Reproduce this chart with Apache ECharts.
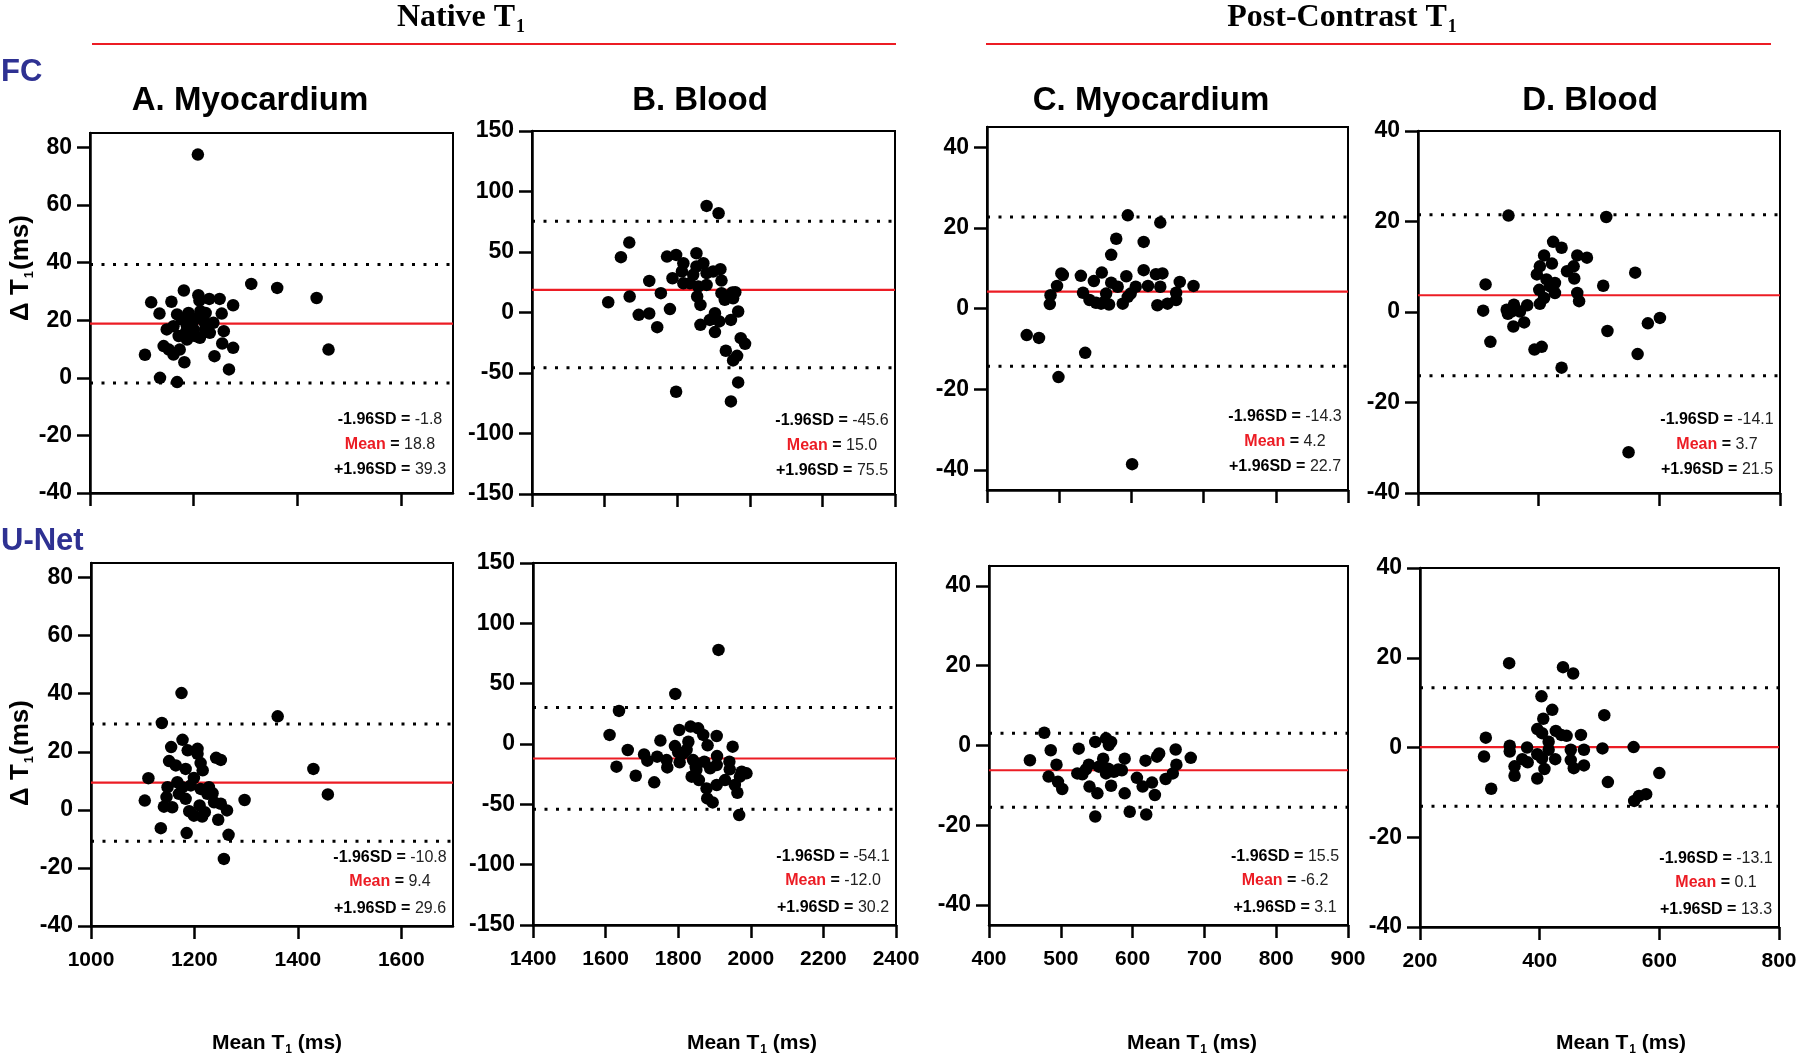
<!DOCTYPE html>
<html>
<head>
<meta charset="utf-8">
<script src="https://cdn.jsdelivr.net/npm/echarts@6/dist/echarts.min.js"></script>
<style>
html,body{margin:0;padding:0;background:#fff;}
#chart{width:1800px;height:1059px;}
</style>
</head>
<body>
<div id="chart"></div>
<script>
// ---------------- DATA ----------------
const panelTitles = ['A. Myocardium', 'B. Blood', 'C. Myocardium', 'D. Blood'];
const groupTitles = ['Native T', 'Post-Contrast T'];
const rowLabels = ['FC', 'U-Net'];

// tick values
const nativeMyoXTicks = [1000, 1200, 1400, 1600];
const nativeBloodXTicks = [1400, 1600, 1800, 2000, 2200, 2400];
const postMyoXTicks = [400, 500, 600, 700, 800, 900];
const postBloodXTicks = [200, 400, 600, 800];
const nativeMyoYTicks = [-40, -20, 0, 20, 40, 60, 80];
const nativeBloodYTicks = [-150, -100, -50, 0, 50, 100, 150];
const postMyoYTicks = [-40, -20, 0, 20, 40];
const postBloodYTicks = [-40, -20, 0, 20, 40];

// axis extents [min, max]
const nativeMyoX = [1000, 1700], nativeMyoY = [-40, 85];
const nativeBloodX = [1400, 2400], nativeBloodY = [-150, 150];
const postMyoX = [400, 900], postMyoY = [-45, 45];
const postBloodX = [200, 800], postBloodY = [-40, 40];

// points [mean T1, delta T1]
const fcNativeMyo = [[1208,77.5],[1311,32.6],[1361,31.2],[1437,27.7],[1460,9.8],[1118,26.2],[1134,22.3],[1157,26.4],[1181,30.3],[1209,28.7],[1211,26.8],[1230,27.4],[1250,27.4],[1276,25.2],[1254,22.3],[1223,22.5],[1213,23.1],[1190,22.5],[1168,22.0],[1148,16.8],[1177,20.2],[1197,19.1],[1219,19.7],[1238,19.1],[1258,16.2],[1231,15.6],[1212,13.9],[1187,13.3],[1171,14.5],[1161,17.9],[1142,11.0],[1152,9.8],[1161,8.1],[1173,9.8],[1255,11.9],[1276,10.4],[1240,7.5],[1182,5.4],[1106,8.0],[1268,2.9],[1135,0.0],[1168,-1.5],[1200,16.8],[1206,20.8],[1184,15.6],[1222,16.8],[1187,17.9],[1203,14.5]];
const fcNativeBlood = [[1881,88.1],[1914,82.0],[1668,57.8],[1645,45.7],[1610,8.5],[1669,13.2],[1694,-1.9],[1723,-0.8],[1723,26.1],[1745,-12.1],[1755,16.0],[1780,2.8],[1787,28.3],[1772,46.2],[1797,47.6],[1817,40.7],[1813,33.9],[1817,24.2],[1835,24.2],[1844,31.1],[1853,49.0],[1872,40.7],[1853,38.0],[1858,21.5],[1881,22.8],[1855,13.2],[1864,6.3],[1899,33.9],[1919,35.8],[1922,26.4],[1922,16.0],[1931,10.5],[1952,16.5],[1960,16.8],[1954,11.8],[1968,0.8],[1904,-0.6],[1890,-6.1],[1916,-7.4],[1948,-6.1],[1864,-10.2],[1904,-16.2],[1934,-31.6],[1965,-35.8],[1954,-39.6],[1975,-21.2],[1987,-25.9],[1968,-57.8],[1948,-73.5],[1797,-65.5],[1881,32.5]];
const fcPostMyo = [[455,-6.6],[472,-7.3],[499,-17.0],[536,-11.0],[601,-38.6],[487,1.1],[488,3.3],[497,5.6],[503,8.7],[505,8.3],[530,8.1],[533,3.9],[548,6.8],[559,8.9],[542,2.1],[551,1.4],[558,1.2],[565,3.7],[569,1.0],[572,13.3],[579,17.3],[572,6.4],[581,5.4],[593,8.0],[595,23.1],[588,1.2],[595,2.9],[606,5.4],[617,9.5],[617,16.5],[623,5.6],[634,8.5],[643,8.7],[640,21.3],[640,5.4],[636,0.8],[650,1.2],[662,2.1],[662,3.9],[667,6.6],[686,5.6],[563,1.7],[599,3.7]];
const fcPostBlood = [[350,21.3],[512,21.0],[312,6.1],[308,0.3],[320,-6.6],[347,0.5],[349,-0.4],[359,1.6],[358,-3.2],[369,0.1],[376,-2.3],[381,1.5],[393,-8.3],[405,-7.7],[397,8.3],[402,10.1],[409,12.5],[401,4.9],[402,1.8],[409,3.1],[413,7.2],[422,10.7],[424,15.5],[419,5.7],[427,6.4],[427,4.2],[438,14.2],[438,-12.3],[447,9.0],[458,10.1],[459,7.4],[464,12.5],[480,12.0],[464,4.2],[467,2.4],[507,5.8],[514,-4.2],[549,-31.0],[560,8.7],[564,-9.3],[581,-2.5],[601,-1.3],[355,0.1]];
const unetNativeMyo = [[1175,40.2],[1137,29.9],[1361,32.2],[1430,14.1],[1458,5.3],[1111,10.9],[1104,3.2],[1155,21.6],[1177,24.1],[1206,21.0],[1206,19.3],[1187,20.5],[1151,16.8],[1164,15.3],[1183,14.1],[1212,16.1],[1216,13.6],[1242,17.9],[1251,17.2],[1199,11.0],[1167,9.5],[1148,7.8],[1146,4.4],[1141,1.1],[1157,0.9],[1170,5.5],[1183,3.8],[1193,8.4],[1212,7.2],[1228,7.8],[1235,5.7],[1238,2.6],[1251,2.1],[1210,1.5],[1190,-0.5],[1199,-2.0],[1215,-2.3],[1220,-0.8],[1263,-0.2],[1246,-3.4],[1135,-6.3],[1185,-8.0],[1266,-8.6],[1257,-16.9],[1297,3.4],[1177,7.8],[1225,5.5]];
const unetNativeBlood = [[1911,78.0],[1792,41.5],[1637,27.4],[1611,7.5],[1630,-18.8],[1661,-5.0],[1683,-26.3],[1706,-8.6],[1715,-13.8],[1734,-31.8],[1742,-10.5],[1751,2.8],[1768,-13.3],[1770,-19.4],[1791,-1.7],[1803,11.6],[1800,-6.9],[1804,-15.2],[1814,-7.7],[1828,1.9],[1834,14.4],[1855,13.0],[1869,7.5],[1841,-13.3],[1848,-18.8],[1837,-27.1],[1857,-29.9],[1872,-14.7],[1881,-1.1],[1888,-20.2],[1906,6.6],[1907,-10.0],[1906,-17.4],[1878,-36.8],[1880,-45.1],[1895,-48.4],[1906,-34.0],[1929,-29.9],[1941,-14.7],[1942,-21.0],[1950,-2.2],[1956,-34.0],[1963,-40.4],[1968,-58.9],[1975,-22.9],[1988,-24.3],[1970,-27.1],[1823,-5.0],[1850,-21.6]];
const unetPostMyo = [[457,-3.7],[477,3.2],[486,-1.2],[494,-4.8],[483,-7.8],[496,-9.1],[502,-10.9],[525,-0.8],[523,-7.0],[530,-7.2],[539,-4.8],[535,-6.0],[540,-10.3],[551,-12.0],[548,0.9],[548,-17.8],[559,-3.3],[563,1.8],[567,0.1],[570,0.9],[566,-5.8],[563,-7.0],[574,-6.6],[570,-10.1],[585,-6.2],[589,-3.3],[589,-12.0],[596,-16.6],[606,-8.1],[614,-10.3],[618,-3.8],[619,-17.3],[627,-9.3],[631,-12.4],[634,-2.8],[637,-2.0],[646,-8.4],[656,-7.0],[661,-4.8],[660,-1.0],[681,-3.1],[553,-5.3],[580,-6.0]];
const unetPostBlood = [[349,18.8],[439,17.9],[456,16.5],[310,2.2],[307,-2.0],[319,-9.2],[350,0.4],[350,-0.9],[358,-4.2],[358,-6.3],[371,-2.6],[380,-3.3],[379,0.0],[396,-1.5],[396,-6.9],[403,11.4],[406,6.4],[396,4.1],[404,3.2],[408,-4.8],[404,-2.4],[415,1.3],[421,8.4],[427,3.7],[426,-2.6],[436,2.8],[445,2.6],[452,-0.5],[452,-2.8],[457,-4.6],[469,2.8],[474,-0.5],[474,-4.0],[505,-0.2],[508,7.2],[514,-7.7],[557,0.1],[558,-11.9],[566,-10.8],[578,-10.4],[600,-5.7],[415,-0.5]];

// limits of agreement as drawn [-1.96SD, mean, +1.96SD]
const fcNativeMyoLimits = [-1.8, 18.8, 39.3];
const fcNativeBloodLimits = [-45.6, 18.7, 75.5];
const fcPostMyoLimits = [-14.3, 4.2, 22.7];
const fcPostBloodLimits = [-14.1, 3.7, 21.5];
const unetNativeMyoLimits = [-10.8, 9.4, 29.6];
const unetNativeBloodLimits = [-54.1, -12.0, 30.2];
const unetPostMyoLimits = [-15.5, -6.2, 3.1];
const unetPostBloodLimits = [-13.1, 0.1, 13.3];

// printed statistics [-1.96SD, mean, +1.96SD]
const fcNativeMyoStats = ['-1.8', '18.8', '39.3'];
const fcNativeBloodStats = ['-45.6', '15.0', '75.5'];
const fcPostMyoStats = ['-14.3', '4.2', '22.7'];
const fcPostBloodStats = ['-14.1', '3.7', '21.5'];
const unetNativeMyoStats = ['-10.8', '9.4', '29.6'];
const unetNativeBloodStats = ['-54.1', '-12.0', '30.2'];
const unetPostMyoStats = ['15.5', '-6.2', '3.1'];
const unetPostBloodStats = ['-13.1', '0.1', '13.3'];

// ---------------- LAYOUT ----------------
const FONT = "'Liberation Sans', Arial, Helvetica, sans-serif";
const SERIF = "'Liberation Serif', 'Times New Roman', serif";
const RED = '#ec1c24';
const NAVY = '#2e3192';

const layout = [
  {left: 90, top: 133, width: 363, height: 360},
  {left: 532, top: 131, width: 363, height: 363},
  {left: 987, top: 127, width: 361, height: 363},
  {left: 1418, top: 131, width: 362, height: 362},
  {left: 91, top: 563, width: 362, height: 363},
  {left: 533, top: 563, width: 363, height: 362},
  {left: 989, top: 566, width: 359, height: 359},
  {left: 1420, top: 568, width: 359, height: 359}
];

const panels = [
  {pts: fcNativeMyo, lim: fcNativeMyoLimits, st: fcNativeMyoStats, x: nativeMyoX, y: nativeMyoY, xt: nativeMyoXTicks, yt: nativeMyoYTicks},
  {pts: fcNativeBlood, lim: fcNativeBloodLimits, st: fcNativeBloodStats, x: nativeBloodX, y: nativeBloodY, xt: nativeBloodXTicks, yt: nativeBloodYTicks},
  {pts: fcPostMyo, lim: fcPostMyoLimits, st: fcPostMyoStats, x: postMyoX, y: postMyoY, xt: postMyoXTicks, yt: postMyoYTicks},
  {pts: fcPostBlood, lim: fcPostBloodLimits, st: fcPostBloodStats, x: postBloodX, y: postBloodY, xt: postBloodXTicks, yt: postBloodYTicks},
  {pts: unetNativeMyo, lim: unetNativeMyoLimits, st: unetNativeMyoStats, x: nativeMyoX, y: nativeMyoY, xt: nativeMyoXTicks, yt: nativeMyoYTicks},
  {pts: unetNativeBlood, lim: unetNativeBloodLimits, st: unetNativeBloodStats, x: nativeBloodX, y: nativeBloodY, xt: nativeBloodXTicks, yt: nativeBloodYTicks},
  {pts: unetPostMyo, lim: unetPostMyoLimits, st: unetPostMyoStats, x: postMyoX, y: postMyoY, xt: postMyoXTicks, yt: postMyoYTicks},
  {pts: unetPostBlood, lim: unetPostBloodLimits, st: unetPostBloodStats, x: postBloodX, y: postBloodY, xt: postBloodXTicks, yt: postBloodYTicks}
];

const plain = v => String(v);
const grids = [], xAxes = [], yAxes = [], series = [], graphics = [];

panels.forEach((p, i) => {
  const L = layout[i];
  const row2 = i >= 4;
  grids.push({left: L.left, top: L.top, width: L.width, height: L.height, show: true,
    borderColor: '#000', borderWidth: 2, backgroundColor: 'transparent', outerBoundsMode: 'none', containLabel: false});
  xAxes.push({type: 'value', gridIndex: i, min: p.x[0], max: p.x[1],
    axisLine: {show: true, onZero: false, lineStyle: {color: '#000', width: 2.5}},
    axisTick: {show: true, inside: false, length: 13, customValues: p.xt, lineStyle: {color: '#000', width: 2.5}},
    axisLabel: {show: row2, customValues: p.xt, formatter: plain, color: '#000', fontWeight: 'bold', fontSize: 21, fontFamily: FONT, margin: 24},
    splitLine: {show: false}});
  yAxes.push({type: 'value', gridIndex: i, min: p.y[0], max: p.y[1],
    axisLine: {show: true, onZero: false, lineStyle: {color: '#000', width: 2.5}},
    axisTick: {show: true, inside: false, length: 13, customValues: p.yt, lineStyle: {color: '#000', width: 2.5}},
    axisLabel: {customValues: p.yt, formatter: plain, color: '#000', fontWeight: 'bold', fontSize: 23, fontFamily: FONT, margin: 18},
    splitLine: {show: false}});
  // limits of agreement lines
  [0, 2].forEach(k => {
    series.push({type: 'line', xAxisIndex: i, yAxisIndex: i, silent: true, symbol: 'none', z: 1,
      data: [[p.x[0], p.lim[k]], [p.x[1], p.lim[k]]],
      lineStyle: {color: '#000', width: 3, type: [3, 8.5]}});
  });
  series.push({type: 'line', xAxisIndex: i, yAxisIndex: i, silent: true, symbol: 'none', z: 1,
    data: [[p.x[0], p.lim[1]], [p.x[1], p.lim[1]]],
    lineStyle: {color: RED, width: 2.2}});
  series.push({type: 'scatter', xAxisIndex: i, yAxisIndex: i, data: p.pts, symbolSize: 12.5, z: 3,
    itemStyle: {color: '#000', opacity: 1}});

  // statistics text
  const cx = L.left + L.width - 63;
  const bottom = L.top + L.height;
  const ys = row2 ? [bottom - 68, bottom - 44, bottom - 17] : [bottom - 73, bottom - 48, bottom - 23];
  const rich = {
    b: {fontFamily: FONT, fontWeight: 'bold', fontSize: 16, fill: '#000'},
    n: {fontFamily: FONT, fontWeight: 'normal', fontSize: 16, fill: '#222'},
    r: {fontFamily: FONT, fontWeight: 'bold', fontSize: 16, fill: RED}
  };
  const lines = ['{b|-1.96SD =} {n|' + p.st[0] + '}', '{r|Mean} {b|=} {n|' + p.st[1] + '}', '{b|+1.96SD =} {n|' + p.st[2] + '}'];
  lines.forEach((t, k) => {
    graphics.push({type: 'text', x: cx, y: ys[k], style: {text: t, rich: rich, align: 'center', verticalAlign: 'middle', fontFamily: FONT, fontSize: 16}});
  });
});

// panel titles
const titleX = [250, 700, 1151, 1590];
panelTitles.forEach((t, i) => {
  graphics.push({type: 'text', x: titleX[i], y: 101, style: {text: t, fontFamily: FONT, fontWeight: 'bold', fontSize: 33, fill: '#000', align: 'center', verticalAlign: 'middle'}});
});

// group titles with red rules
const groupX = [461, 1342];
const ruleX = [[92, 896], [986, 1771]];
groupTitles.forEach((t, i) => {
  graphics.push({type: 'text', x: groupX[i], y: 18, style: {
    text: '{t|' + t + '}{s|1}', align: 'center', verticalAlign: 'middle',
    rich: {t: {fontFamily: SERIF, fontWeight: 'bold', fontSize: 32, lineHeight: 36, fill: '#000'},
           s: {fontFamily: SERIF, fontWeight: 'bold', fontSize: 18, lineHeight: 36, verticalAlign: 'bottom', padding: [15, 0, 0, 1], fill: '#000'}}}});
  graphics.push({type: 'line', shape: {x1: ruleX[i][0], y1: 44, x2: ruleX[i][1], y2: 44}, style: {stroke: RED, lineWidth: 2}});
});

// row labels
const rowY = [72, 541];
rowLabels.forEach((t, i) => {
  graphics.push({type: 'text', x: 1, y: rowY[i], style: {text: t, fontFamily: FONT, fontWeight: 'bold', fontSize: 31, fill: NAVY, align: 'left', verticalAlign: 'middle'}});
});

// y-axis names
const yNameY = [268, 753];
yNameY.forEach(yy => {
  graphics.push({type: 'text', x: 21, y: yy, rotation: Math.PI / 2, style: {
    text: '{a|Δ T}{s|1}{a|(ms)}', align: 'center', verticalAlign: 'middle',
    rich: {a: {fontFamily: FONT, fontWeight: 'bold', fontSize: 26, lineHeight: 30, fill: '#000'},
           s: {fontFamily: FONT, fontWeight: 'bold', fontSize: 13, lineHeight: 30, verticalAlign: 'bottom', padding: [12, 1, 0, 1], fill: '#000'}}}});
});

// x-axis names
const xNameX = [277, 752, 1192, 1621];
xNameX.forEach(xx => {
  graphics.push({type: 'text', x: xx, y: 1043, style: {
    text: '{a|Mean T}{s|1}{a| (ms)}', align: 'center', verticalAlign: 'middle',
    rich: {a: {fontFamily: FONT, fontWeight: 'bold', fontSize: 21, lineHeight: 26, fill: '#000'},
           s: {fontFamily: FONT, fontWeight: 'bold', fontSize: 12, lineHeight: 26, verticalAlign: 'bottom', padding: [10, 0, 0, 1], fill: '#000'}}}});
});

const chart = echarts.init(document.getElementById('chart'), null, {renderer: 'canvas'});
chart.setOption({
  animation: false,
  backgroundColor: '#fff',
  grid: grids,
  xAxis: xAxes,
  yAxis: yAxes,
  series: series,
  graphic: graphics
});
</script>
</body>
</html>
